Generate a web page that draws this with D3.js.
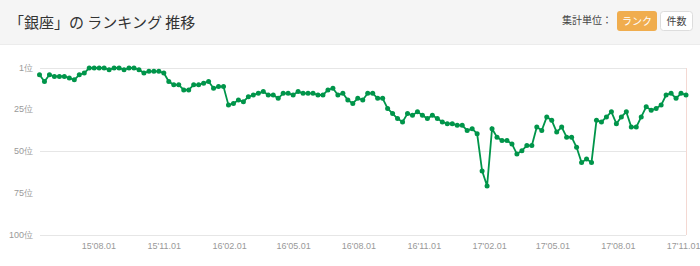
<!DOCTYPE html>
<html>
<head>
	<meta charset="utf-8">
	<title>銀座 ランキング推移</title>
	<script src="https://cdnjs.cloudflare.com/ajax/libs/d3/7.8.5/d3.min.js"></script>
	<style type="text/css">
	html, body{
		margin:0;
		background:#fff;
		font-family:"Noto Sans CJK JP", "Noto Sans", sans-serif;
	}
	#chart{
		width:700px;
		height:266px;
		position:relative;
	}
	.tick text{
		fill:#999;
		font-size:9px;
	}
	</style>
</head>
<body>
	<div id="chart"></div>
	<script type="text/javascript">
	// weekly ranks, first week starting 2015-05-10
	var firstWeek = new Date(2015, 4, 10);
	var ranks = [5, 9, 5, 6, 6, 6, 7, 8, 5, 4,
		1, 1, 1, 1, 2, 1, 1, 2, 1, 1,
		2, 4, 3, 3, 3, 4, 9, 11, 11, 14,
		14, 11, 11, 10, 9, 13, 12, 12, 23, 22,
		20, 21, 18, 17, 16, 15, 17, 17, 19, 16,
		16, 17, 15, 16, 16, 16, 17, 17, 14, 13,
		17, 16, 20, 22, 19, 20, 16, 16, 19, 19,
		25, 28, 31, 33, 28, 29, 27, 29, 31, 29,
		31, 33, 34, 34, 35, 35, 38, 37, 40, 62,
		71, 37, 42, 44, 44, 46, 52, 50, 47, 47,
		36, 38, 30, 32, 39, 36, 42, 42, 48, 57,
		55, 57, 32, 33, 30, 27, 34, 30, 27, 36,
		36, 30, 24, 26, 25, 23, 17, 16, 19, 16, 17];
	var rankTicks = [1, 25, 50, 75, 100];
	var rankGrid = [1, 50, 100];
	var dateTicks = ["2015-08-01", "2015-11-01", "2016-02-01", "2016-05-01", "2016-08-01",
		"2016-11-01", "2017-02-01", "2017-05-01", "2017-08-01", "2017-11-01"];

	var W = 700, H = 266;
	var svg = d3.select("#chart").append("svg").attr("width", W).attr("height", H);

	// header
	svg.append("rect").attr("x", 0).attr("y", 0).attr("width", W).attr("height", 44).attr("fill", "#f5f5f5");
	svg.append("line").attr("x1", 0).attr("x2", W).attr("y1", 44.5).attr("y2", 44.5).attr("stroke", "#ececec");
	svg.append("text").attr("x", 9).attr("y", 28).attr("font-size", 15).attr("fill", "#333")
		.text("「銀座」の ランキング 推移");

	svg.append("text").attr("x", 612).attr("y", 24).attr("text-anchor", "end")
		.attr("font-size", 10).attr("fill", "#444").text("集計単位：");
	svg.append("rect").attr("x", 617).attr("y", 11).attr("width", 40).attr("height", 20).attr("rx", 3)
		.attr("fill", "#f0ad4e");
	svg.append("text").attr("x", 637).attr("y", 25).attr("text-anchor", "middle")
		.attr("font-size", 10).attr("fill", "#fff").text("ランク");
	svg.append("rect").attr("x", 660.5).attr("y", 11.5).attr("width", 32).attr("height", 19).attr("rx", 3)
		.attr("fill", "#fff").attr("stroke", "#ddd");
	svg.append("text").attr("x", 676.5).attr("y", 25).attr("text-anchor", "middle")
		.attr("font-size", 10).attr("fill", "#444").text("件数");

	var data = ranks.map(function(r, i){
		return {date: d3.timeWeek.offset(firstWeek, i), rank: r};
	});

	var x = d3.scaleTime()
		.domain([data[0].date, data[data.length - 1].date])
		.range([39.5, 686]);
	var y = d3.scaleLinear().domain([1, 100]).range([68, 235]);

	var g = svg.append("g");

	// grid
	g.selectAll("line.grid").data(rankGrid).enter().append("line")
		.attr("class", "grid")
		.attr("x1", 40).attr("x2", 686)
		.attr("y1", function(d){ return Math.round(y(d)) + 0.5; })
		.attr("y2", function(d){ return Math.round(y(d)) + 0.5; })
		.attr("stroke", "#e6e6e6");

	g.append("line").attr("x1", 686.5).attr("x2", 686.5).attr("y1", 68).attr("y2", 235)
		.attr("stroke", "#f4d8d2");

	// y axis labels
	var yAxis = d3.axisLeft(y).tickValues(rankTicks).tickSize(0).tickPadding(0)
		.tickFormat(function(d){ return d + "位"; });
	var ya = svg.append("g").attr("transform", "translate(33,0)").call(yAxis);
	ya.select(".domain").remove();

	// x axis labels
	var parse = d3.timeParse("%Y-%m-%d");
	var xAxis = d3.axisBottom(x).tickValues(dateTicks.map(parse)).tickSize(0).tickPadding(0)
		.tickFormat(d3.timeFormat("%y'%m.%d"));
	var xa = svg.append("g").attr("transform", "translate(0,243)").call(xAxis);
	xa.select(".domain").remove();

	// line + points
	var line = d3.line()
		.x(function(d){ return x(d.date); })
		.y(function(d){ return y(d.rank); });

	g.append("path").datum(data)
		.attr("d", line)
		.attr("fill", "none")
		.attr("stroke", "#00954a")
		.attr("stroke-width", 1.8);

	g.selectAll("circle").data(data).enter().append("circle")
		.attr("cx", function(d){ return x(d.date); })
		.attr("cy", function(d){ return y(d.rank); })
		.attr("r", 2.5)
		.attr("fill", "#00954a");
	</script>
</body>
</html>
